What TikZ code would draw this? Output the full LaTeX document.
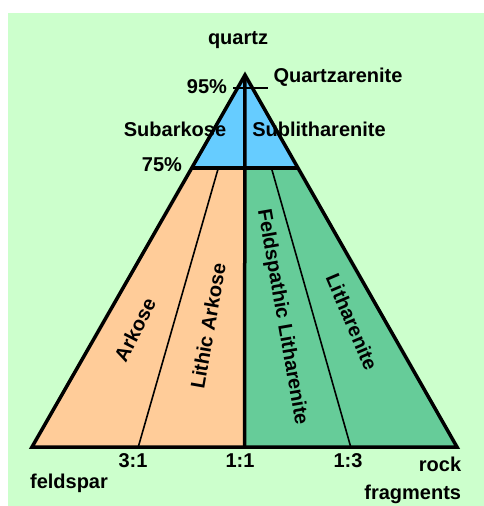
\documentclass[tikz,border=0pt]{standalone}
\usepackage{fontspec}
\setmainfont{Liberation Sans}
\usetikzlibrary{positioning, calc}
\definecolor{bggreen}{RGB}{204, 255, 204}
\definecolor{qblue}  {RGB}{102, 204, 255}
\definecolor{fpeach} {RGB}{255, 204, 153}
\definecolor{rgreen} {RGB}{102, 204, 153}
\tikzset{
  % Label text
  lbl/.style={
    font=\bfseries\fontsize{20}{24}\selectfont,
    inner sep=0pt, text=black
  },
  % Outer triangle and main borders
  rim/.style={line width=3.5pt, line join=miter},
  % Thin field borders
  split/.style={line width=1.6pt},
}

\begin{document}
\begin{tikzpicture}[x=1pt, y=-1pt]
  \fill[white] (0,0) rectangle (484,506);
  \fill[bggreen] (8,13) rectangle (484,506);
  \useasboundingbox (0,0) rectangle (484,506);
  % corners
  \coordinate (qz) at (245,75);
  \coordinate (fs) at (32,447);
  \coordinate (rf) at (457,447);
  \coordinate (mid) at ($(fs)!0.5!(rf)$);
  \coordinate (l75) at ($(qz)!0.25!(fs)$);
  \coordinate (r75) at ($(qz)!0.25!(rf)$);
  \coordinate (c75) at ($(l75)!0.5!(r75)$);
  \coordinate (b31) at ($(fs)!0.25!(rf)$);
  \coordinate (b13) at ($(fs)!0.75!(rf)$);
  \coordinate (t31) at ($(l75)!0.25!(r75)$);
  \coordinate (t13) at ($(l75)!0.75!(r75)$);
  % fields
  \fill[qblue]  (qz) -- (l75) -- (r75) -- cycle;
  \fill[fpeach] (l75) -- (c75) -- (mid) -- (fs) -- cycle;
  \fill[rgreen] (c75) -- (r75) -- (rf) -- (mid) -- cycle;
  % borders
  \draw[split] (t31) -- (b31);
  \draw[split] (t13) -- (b13);
  \draw[rim] (l75) -- (r75);
  \draw[rim] (qz) -- (mid);
  \draw[rim] (qz) -- (fs) -- (rf) -- cycle;
  % 95% tick
  \coordinate (q95a) at (233,88);
  \coordinate (q95b) at (268,88);
  \draw[line width=2pt] (q95a) -- (q95b);
  % end members and ratios
  \node[lbl] (quartz) at (238,40) {quartz};
  \node[lbl] (p95) at (207,87) {95\%};
  \node[lbl] (p75) at (162,165) {75\%};
  \node[lbl] (qa) at (338,77) {Quartzarenite};
  \node[lbl] (sa) at (175,129) {Subarkose};
  \node[lbl] (sl) at (319,129) {Sublitharenite};
  \node[lbl] (r31) at (133,461) {3:1};
  \node[lbl] (r11) at (240,461) {1:1};
  \node[lbl] (r13) at (348,461) {1:3};
  \node[lbl] (feld) at (69,483) {feldspar};
  \node[lbl] (rock) at (440,464) {rock};
  \node[lbl, below=13pt of rock.south east, anchor=north east] (frag) {fragments};
  % field names
  \node[lbl, rotate=63]  (ark)  at (135,330) {Arkose};
  \node[lbl, rotate=80]  (lark) at (208,326) {Lithic Arkose};
  \node[lbl, rotate=-80] (flit) at (282,317) {Feldspathic Litharenite};
  \node[lbl, rotate=-67] (lit)  at (352,322) {Litharenite};
\end{tikzpicture}
\end{document}
